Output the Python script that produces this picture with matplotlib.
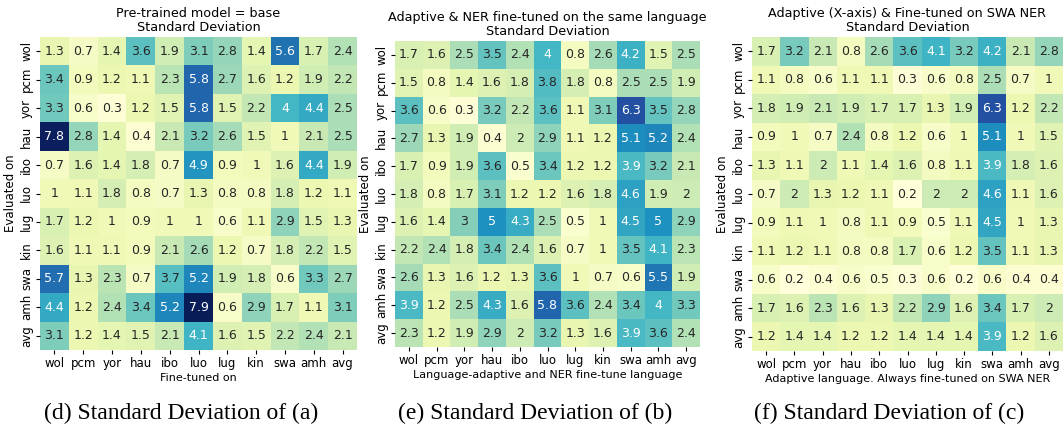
import numpy as np
import matplotlib
matplotlib.use("Agg")
from matplotlib import pyplot as plt
import seaborn as sns

langs = ["wol", "pcm", "yor", "hau", "ibo", "luo", "lug", "kin", "swa", "amh", "avg"]

# (d) std of pre-trained base model
std_base = [
    [1.3, 0.7, 1.4, 3.6, 1.9, 3.1, 2.8, 1.4, 5.6, 1.7, 2.4],
    [3.4, 0.9, 1.2, 1.1, 2.3, 5.8, 2.7, 1.6, 1.2, 1.9, 2.2],
    [3.3, 0.6, 0.3, 1.2, 1.5, 5.8, 1.5, 2.2, 4, 4.4, 2.5],
    [7.8, 2.8, 1.4, 0.4, 2.1, 3.2, 2.6, 1.5, 1, 2.1, 2.5],
    [0.7, 1.6, 1.4, 1.8, 0.7, 4.9, 0.9, 1, 1.6, 4.4, 1.9],
    [1, 1.1, 1.8, 0.8, 0.7, 1.3, 0.8, 0.8, 1.8, 1.2, 1.1],
    [1.7, 1.2, 1, 0.9, 1, 1, 0.6, 1.1, 2.9, 1.5, 1.3],
    [1.6, 1.1, 1.1, 0.9, 2.1, 2.6, 1.2, 0.7, 1.8, 2.2, 1.5],
    [5.7, 1.3, 2.3, 0.7, 3.7, 5.2, 1.9, 1.8, 0.6, 3.3, 2.7],
    [4.4, 1.2, 2.4, 3.4, 5.2, 7.9, 0.6, 2.9, 1.7, 1.1, 3.1],
    [3.1, 1.2, 1.4, 1.5, 2.1, 4.1, 1.6, 1.5, 2.2, 2.4, 2.1],
]

# (e) std of adaptive + NER fine-tuned on same language
std_same = [
    [1.7, 1.6, 2.5, 3.5, 2.4, 4, 0.8, 2.6, 4.2, 1.5, 2.5],
    [1.5, 0.8, 1.4, 1.6, 1.8, 3.8, 1.8, 0.8, 2.5, 2.5, 1.9],
    [3.6, 0.6, 0.3, 3.2, 2.2, 3.6, 1.1, 3.1, 6.3, 3.5, 2.8],
    [2.7, 1.3, 1.9, 0.4, 2, 2.9, 1.1, 1.2, 5.1, 5.2, 2.4],
    [1.7, 0.9, 1.9, 3.6, 0.5, 3.4, 1.2, 1.2, 3.9, 3.2, 2.1],
    [1.8, 0.8, 1.7, 3.1, 1.2, 1.2, 1.6, 1.8, 4.6, 1.9, 2],
    [1.6, 1.4, 3, 5, 4.3, 2.5, 0.5, 1, 4.5, 5, 2.9],
    [2.2, 2.4, 1.8, 3.4, 2.4, 1.6, 0.7, 1, 3.5, 4.1, 2.3],
    [2.6, 1.3, 1.6, 1.2, 1.3, 3.6, 1, 0.7, 0.6, 5.5, 1.9],
    [3.9, 1.2, 2.5, 4.3, 1.6, 5.8, 3.6, 2.4, 3.4, 4, 3.3],
    [2.3, 1.2, 1.9, 2.9, 2, 3.2, 1.3, 1.6, 3.9, 3.6, 2.4],
]

# (f) std of adaptive (x-axis) + fine-tuned on swa
std_swa = [
    [1.7, 3.2, 2.1, 0.8, 2.6, 3.6, 4.1, 3.2, 4.2, 2.1, 2.8],
    [1.1, 0.8, 0.6, 1.1, 1.1, 0.3, 0.6, 0.8, 2.5, 0.7, 1],
    [1.8, 1.9, 2.1, 1.9, 1.7, 1.7, 1.3, 1.9, 6.3, 1.2, 2.2],
    [0.9, 1, 0.7, 2.4, 0.8, 1.2, 0.6, 1, 5.1, 1, 1.5],
    [1.3, 1.1, 2, 1.1, 1.4, 1.6, 0.8, 1.1, 3.9, 1.8, 1.6],
    [0.7, 2, 1.3, 1.2, 1.1, 0.2, 2, 2, 4.6, 1.1, 1.6],
    [0.9, 1.1, 1, 0.8, 1.1, 0.9, 0.5, 1.1, 4.5, 1, 1.3],
    [1.1, 1.2, 1.1, 0.8, 0.8, 1.7, 0.6, 1.2, 3.5, 1.1, 1.3],
    [0.6, 0.2, 0.4, 0.6, 0.5, 0.3, 0.6, 0.2, 0.6, 0.4, 0.4],
    [1.7, 1.6, 2.3, 1.6, 1.3, 2.2, 2.9, 1.6, 3.4, 1.7, 2],
    [1.2, 1.4, 1.4, 1.2, 1.2, 1.4, 1.4, 1.4, 3.9, 1.2, 1.6],
]

titles = ["Pre-trained model = base\nStandard Deviation",
          "Adaptive & NER fine-tuned on the same language\nStandard Deviation",
          "Adaptive (X-axis) & Fine-tuned on SWA NER\nStandard Deviation"]
xlabels = ["Fine-tuned on",
           "Language-adaptive and NER fine-tune language",
           "Adaptive language. Always fine-tuned on SWA NER"]
captions = ["(d) Standard Deviation of (a)",
            "(e) Standard Deviation of (b)",
            "(f) Standard Deviation of (c)"]

W, H = 1063, 430
fig = plt.figure(figsize=(W / 100, H / 100), dpi=100)

# pixel boxes (left, top, right, bottom) for each heatmap
boxes = [(40, 37, 357, 350), (395, 41, 700, 347), (752, 37, 1063, 351)]
cap_x = [181, 535, 889]

for data, title, xl, cap, box, cx in zip([std_base, std_same, std_swa], titles,
                                         xlabels, captions, boxes, cap_x):
    l, t, r, b = box
    ax = fig.add_axes([l / W, 1 - b / H, (r - l) / W, (b - t) / H])
    sns.heatmap(np.array(data), ax=ax, cmap="YlGnBu", vmin=0.2, vmax=7.9,
                annot=True, fmt="g", cbar=False, annot_kws={"size": 9},
                xticklabels=langs, yticklabels=langs)
    ax.set_title(title, fontsize=9.2, pad=4, linespacing=1.1)
    ax.set_xlabel(xl, fontsize=8, labelpad=2)
    ax.set_ylabel("Evaluated on", fontsize=8.5, labelpad=2)
    ax.tick_params(labelsize=8.5, length=3, pad=2)
    plt.setp(ax.get_yticklabels(), rotation=90, va="center")
    plt.setp(ax.get_xticklabels(), rotation=0)
    fig.text(cx / W, 1 - 413 / H, cap, ha="center", va="center",
             fontsize=17, family=["Liberation Serif", "DejaVu Serif"])

fig.savefig("out.png", dpi=100)
